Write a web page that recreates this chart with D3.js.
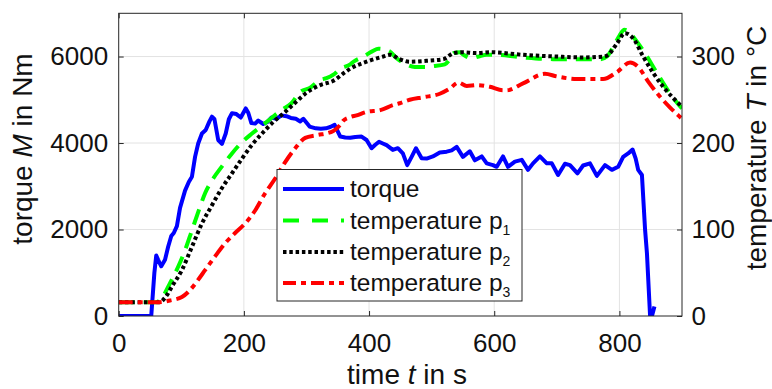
<!DOCTYPE html>
<html><head><meta charset="utf-8">
<script src="https://cdn.jsdelivr.net/npm/d3@7/dist/d3.min.js"></script>
<style>
body{margin:0;background:#fff;}
svg{display:block;font-family:"Liberation Sans",Arial,sans-serif;}
</style></head>
<body><svg id="c" width="772" height="389"></svg>
<script>
// ---- data ----
const xTicks = [0, 200, 400, 600, 800];
const yLeftTicks = [0, 2000, 4000, 6000];
const yRightTicks = [0, 100, 200, 300];

const torqueT = [0,52,57,60,63,68,74,79,84,88,93,98,106,112,117,122,127,133,139,145,149,153,159,165,171,176,181,188,195,203,207,212,218,223,231,237,244,252,260,268,275,283,290,295,305,315,323,331,338,345,354,362,370,378,388,396,404,410,416,422,428,438,446,454,461,468,475,484,492,502,513,524,532,540,550,561,569,580,588,598,604,614,622,633,644,654,662,673,684,692,702,713,721,733,742,753,764,777,788,798,806,814,821,826,830,836,841,844,849,852,856];
const torqueM = [0,0,1000,1400,1300,1150,1300,1600,1850,1920,2080,2500,2900,3100,3220,3680,3990,4220,4300,4500,4610,4550,4070,3980,4220,4550,4690,4670,4590,4800,4700,4460,4450,4520,4440,4480,4590,4560,4640,4620,4580,4560,4500,4560,4380,4340,4330,4340,4370,4420,4150,4130,4120,4140,4150,4070,3880,3960,4030,3990,3950,3840,3880,3760,3490,3680,3880,3650,3640,3690,3780,3800,3830,3910,3680,3810,3600,3690,3530,3490,3450,3690,3450,3570,3610,3380,3530,3690,3530,3530,3260,3520,3490,3300,3480,3530,3240,3490,3380,3450,3680,3760,3850,3640,3380,3260,2000,1450,0,0,220];

const p1T = [0,60,70,82,95,106,117,127,138,151,165,181,197,213,234,260,276,290,306,322,332,343,354,370,375,391,405,415,425,433,444,457,473,490,503,521,530,535,545,551,564,575,588,604,646,694,737,770,780,790,800,808,815,822,838,860,881,900];
const p1V = [16,16,22,38,57,76,99,120,142,159,173,188,201,211,223,238,246,259,264,273,275,279,286,291,294,300,306,309,308,306,298,292,288,288,289,291,298,304,305,302,298,300,302,302,299,297,297,297,300,311,324,331,329,323,307,281,257,240];

const p2T = [0,65,75,85,101,117,133,149,165,181,197,213,229,245,266,284,298,322,343,360,370,396,423,434,449,465,492,519,535,548,572,593,646,700,742,775,782,796,809,822,838,854,870,886,900];
const p2V = [16,16,22,34,53,80,107,128,148,165,182,198,211,223,236,248,257,267,272,281,286,294,300,302,297,294,295,297,304,305,304,305,302,300,299,300,302,315,327,321,300,281,265,252,242];

const p3T = [0,65,82,101,114,125,138,154,170,186,202,218,234,250,266,282,298,316,343,354,359,370,380,396,418,439,449,465,487,513,529,543,556,572,593,614,620,646,681,700,732,774,796,817,830,846,862,881,897,900];
const p3V = [16,16,18,22,30,40,53,69,84,96,107,122,142,159,178,194,206,209,214,221,226,230,232,236,238,244,246,250,253,257,263,270,266,267,265,261,261,269,280,277,274,274,282,293,288,271,256,241,230,228];

const legendLabels = ["torque", "temperature p", "temperature p", "temperature p"];
const legendSubs = ["", "1", "2", "3"];

// ---- layout ----
const svg = d3.select("#c");
const L = 118.7, R = 682, T = 13.3, B = 316;
const x = d3.scaleLinear().domain([0, 900]).range([L, R]);
const yL = d3.scaleLinear().domain([0, 7000]).range([B, T]);
const yR = d3.scaleLinear().domain([0, 350]).range([B, T]);
const axisCol = "#262626", gridCol = "#e3e3e3";
const tickFont = 26;

// grid
const g = svg.append("g");
g.selectAll(".gx").data(xTicks.filter(d => d > 0)).enter().append("line")
  .attr("x1", d => x(d)).attr("x2", d => x(d)).attr("y1", T).attr("y2", B)
  .attr("stroke", gridCol).attr("stroke-width", 1);
g.selectAll(".gy").data(yLeftTicks.filter(d => d > 0)).enter().append("line")
  .attr("x1", L).attr("x2", R).attr("y1", d => yL(d)).attr("y2", d => yL(d))
  .attr("stroke", gridCol).attr("stroke-width", 1);

// clip
svg.append("clipPath").attr("id", "clip").append("rect")
  .attr("x", L).attr("y", T).attr("width", R - L).attr("height", B - T);
const plot = svg.append("g").attr("clip-path", "url(#clip)");

function series(ts, vs, sx, sy, col, dash, curve) {
  const data = ts.map((t, i) => [t, vs[i]]);
  plot.append("path").datum(data)
    .attr("fill", "none").attr("stroke", col).attr("stroke-width", 4)
    .attr("stroke-dasharray", dash).attr("stroke-linejoin", "round")
    .attr("d", d3.line().x(d => sx(d[0])).y(d => sy(d[1])).curve(curve));
}
series(torqueT, torqueM, x, yL, "#0000ff", null, d3.curveLinear);
series(p1T, p1V, x, yR, "#00ff00", "16,9", d3.curveMonotoneX);
series(p2T, p2V, x, yR, "#000000", "3.5,2.8", d3.curveMonotoneX);
series(p3T, p3V, x, yR, "#ff0000", "14,5,5,5", d3.curveMonotoneX);

// axes
function styleAxis(sel) {
  sel.select(".domain").remove();
  sel.selectAll(".tick line").attr("stroke", axisCol);
  sel.selectAll(".tick text").attr("fill", "#111").style("font-size", tickFont + "px")
    .style("font-family", '"Liberation Sans",Arial,sans-serif');
}
svg.append("g").attr("transform", `translate(0,${B})`)
  .call(d3.axisBottom(x).tickValues(xTicks).tickSize(-5).tickPadding(17.5).tickFormat(d3.format("d")))
  .call(styleAxis);
svg.append("g").attr("transform", `translate(0,${T})`)
  .call(d3.axisTop(x).tickValues(xTicks).tickSize(-5).tickFormat(""))
  .call(styleAxis);
svg.append("g").attr("transform", `translate(${L},0)`)
  .call(d3.axisLeft(yL).tickValues(yLeftTicks).tickSize(-5).tickPadding(10.5).tickFormat(d3.format("d")))
  .call(styleAxis);
svg.append("g").attr("transform", `translate(${R},0)`)
  .call(d3.axisRight(yR).tickValues(yRightTicks).tickSize(-5).tickPadding(9.5).tickFormat(d3.format("d")))
  .call(styleAxis);

// box
svg.append("rect").attr("x", L).attr("y", T).attr("width", R - L).attr("height", B - T)
  .attr("fill", "none").attr("stroke", axisCol).attr("stroke-width", 1);

// axis labels
const lab = svg.append("g").attr("fill", "#111").style("font-size", "28px");
const xl = lab.append("text").attr("x", 407).attr("y", 383.5).attr("text-anchor", "middle");
xl.append("tspan").text("time ");
xl.append("tspan").attr("font-style", "italic").text("t");
xl.append("tspan").text(" in s");
const yl = lab.append("text").attr("transform", "translate(32,149) rotate(-90)").attr("text-anchor", "middle");
yl.append("tspan").text("torque ");
yl.append("tspan").attr("font-style", "italic").text("M");
yl.append("tspan").text(" in Nm");
const yr = lab.append("text").attr("transform", "translate(766,148) rotate(-90)").attr("text-anchor", "middle");
yr.append("tspan").text("temperature ");
yr.append("tspan").attr("font-style", "italic").text("T");
yr.append("tspan").text(" in °C");

// legend
const leg = svg.append("g");
leg.append("rect").attr("x", 277).attr("y", 169.5).attr("width", 245).attr("height", 131.5)
  .attr("fill", "#fff").attr("stroke", axisCol).attr("stroke-width", 1);
const legCols = ["#0000ff", "#00ff00", "#000000", "#ff0000"];
const legDash = [null, "16,13", "3.5,2.8", "13,5,5,5"];
const rowY = [189, 220.5, 252, 283];
legendLabels.forEach((s, i) => {
  leg.append("line").attr("x1", 283).attr("x2", 344).attr("y1", rowY[i]).attr("y2", rowY[i])
    .attr("stroke", legCols[i]).attr("stroke-width", 4).attr("stroke-dasharray", legDash[i]);
  const t = leg.append("text").attr("x", 350).attr("y", rowY[i] + 8).attr("fill", "#111")
    .style("font-size", "24.5px");
  t.append("tspan").text(s);
  if (legendSubs[i]) t.append("tspan").attr("dy", 6).style("font-size", "14px").text(legendSubs[i]);
});
</script></body></html>
